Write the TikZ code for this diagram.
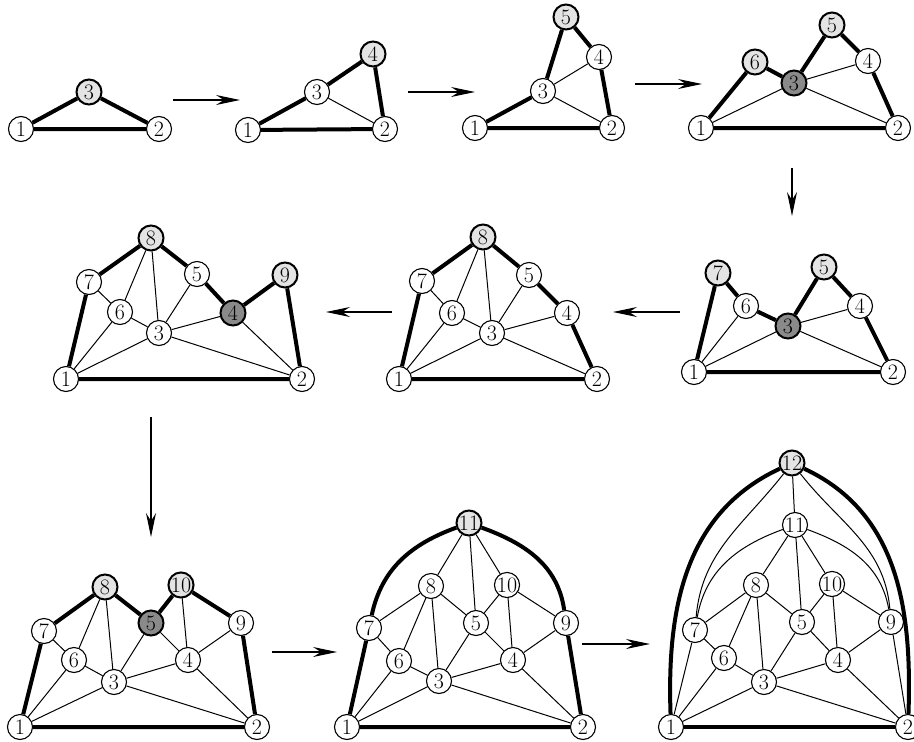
\documentclass[tikz,border=0pt]{standalone}
\usetikzlibrary{arrows.meta}
\definecolor{lightv}{HTML}{E4E4E4}
\definecolor{darkv}{HTML}{8A8A8A}
\begin{document}
\begin{tikzpicture}[x=1pt,y=1pt,
  v/.style={circle,draw,fill=white,line width=1.1pt,minimum size=25pt,inner sep=0pt,font=\fontsize{22}{22}\selectfont},
  vl/.style={v,fill=lightv,line width=2pt},
  vd/.style={v,fill=darkv,line width=2pt},
  tk/.style={line width=4pt},
  tn/.style={line width=1pt},
  arr/.style={line width=1.2pt,-{Stealth[length=24pt,width=10pt,inset=8pt]}}]
\useasboundingbox (0,0) rectangle (914,-742);
% ---------- Panel A
\node[v]  (a1) at (21,-129) {1};
\node[v]  (a2) at (159,-129) {2};
\node[vl] (a3) at (89,-92) {3};
\draw[tk] (a1)--(a2) (a1)--(a3) (a3)--(a2);
% ---------- Panel B
\node[v]  (b1) at (248,-130) {1};
\node[v]  (b2) at (385,-129) {2};
\node[v]  (b3) at (317,-92) {3};
\node[vl] (b4) at (373,-54) {4};
\draw[tk] (b1)--(b2) (b1)--(b3) (b3)--(b4) (b4)--(b2);
\draw[tn] (b3)--(b2);
% ---------- Panel C
\node[v]  (c1) at (475,-128) {1};
\node[v]  (c2) at (612,-128) {2};
\node[v]  (c3) at (543,-91) {3};
\node[v]  (c4) at (599,-57) {4};
\node[vl] (c5) at (566,-17) {5};
\draw[tk] (c1)--(c2) (c1)--(c3) (c3)--(c5) (c5)--(c4) (c4)--(c2);
\draw[tn] (c3)--(c4) (c3)--(c2);
% ---------- Panel D
\node[v]  (d1) at (701,-128) {1};
\node[v]  (d2) at (898,-128) {2};
\node[vd] (d3) at (794,-83) {3};
\node[v]  (d4) at (868,-61) {4};
\node[vl] (d5) at (832,-25) {5};
\node[vl] (d6) at (755,-62) {6};
\draw[tk] (d1)--(d2) (d1)--(d6) (d6)--(d3) (d3)--(d5) (d5)--(d4) (d4)--(d2);
\draw[tn] (d1)--(d3) (d3)--(d4) (d3)--(d2);
% ---------- Panel E
\node[v]  (e1) at (694,-372) {1};
\node[v]  (e2) at (893,-372) {2};
\node[vd] (e3) at (788,-326) {3};
\node[v]  (e4) at (860,-306) {4};
\node[vl] (e5) at (824,-267) {5};
\node[v]  (e6) at (746,-306) {6};
\node[vl] (e7) at (718,-273) {7};
\draw[tk] (e1)--(e2) (e1)--(e7) (e7)--(e6) (e6)--(e3) (e3)--(e5) (e5)--(e4) (e4)--(e2);
\draw[tn] (e1)--(e6) (e1)--(e3) (e3)--(e4) (e3)--(e2);
% ---------- Panel F
\node[v]  (f1) at (399,-379) {1};
\node[v]  (f2) at (597,-379) {2};
\node[v]  (f3) at (492,-333) {3};
\node[v]  (f4) at (567,-313) {4};
\node[v]  (f5) at (529,-275) {5};
\node[v]  (f6) at (452,-313) {6};
\node[v]  (f7) at (422,-281) {7};
\node[vl] (f8) at (483,-237) {8};
\draw[tk] (f1)--(f2) (f1)--(f7) (f7)--(f8) (f8)--(f5) (f5)--(f4) (f4)--(f2);
\draw[tn] (f7)--(f6) (f6)--(f8) (f8)--(f3) (f6)--(f3) (f6)--(f1) (f1)--(f3) (f3)--(f5) (f3)--(f4) (f3)--(f2);
% ---------- Panel G
\node[v]  (g1) at (66,-379) {1};
\node[v]  (g2) at (302,-379) {2};
\node[v]  (g3) at (159,-333) {3};
\node[vd] (g4) at (233,-313) {4};
\node[v]  (g5) at (197,-274) {5};
\node[v]  (g6) at (120,-312) {6};
\node[v]  (g7) at (89,-282) {7};
\node[vl] (g8) at (151,-238) {8};
\node[vl] (g9) at (285,-275) {9};
\draw[tk] (g1)--(g2) (g1)--(g7) (g7)--(g8) (g8)--(g5) (g5)--(g4) (g4)--(g9) (g9)--(g2);
\draw[tn] (g7)--(g6) (g6)--(g8) (g8)--(g3) (g6)--(g3) (g6)--(g1) (g1)--(g3) (g3)--(g5) (g3)--(g4) (g3)--(g2) (g4)--(g2);
% ---------- Panel H
\node[v]  (h1) at (20,-727) {1};
\node[v]  (h2) at (257,-727) {2};
\node[v]  (h3) at (114,-682) {3};
\node[v]  (h4) at (188,-660) {4};
\node[vd] (h5) at (151,-623) {5};
\node[v]  (h6) at (74,-660) {6};
\node[v]  (h7) at (44,-631) {7};
\node[vl] (h8) at (105,-587) {8};
\node[v]  (h9) at (241,-623) {9};
\node[vl] (h10) at (181,-585) {10};
\draw[tk] (h1)--(h2) (h1)--(h7) (h7)--(h8) (h8)--(h5) (h5)--(h10) (h10)--(h9) (h9)--(h2);
\draw[tn] (h7)--(h6) (h6)--(h8) (h8)--(h3) (h6)--(h3) (h6)--(h1) (h1)--(h3) (h3)--(h5) (h5)--(h4) (h10)--(h4) (h9)--(h4) (h3)--(h4) (h3)--(h2) (h4)--(h2);
% ---------- Panel I
\node[v]  (i1) at (347,-727) {1};
\node[v]  (i2) at (583,-727) {2};
\node[v]  (i3) at (439,-681) {3};
\node[v]  (i4) at (513,-660) {4};
\node[v]  (i5) at (476,-623) {5};
\node[v]  (i6) at (399,-661) {6};
\node[v]  (i7) at (369,-628) {7};
\node[v]  (i8) at (431,-586) {8};
\node[v]  (i9) at (566,-623) {9};
\node[v]  (i10) at (507,-585) {10};
\node[vl] (i11) at (469,-523) {11};
\draw[tk] (i1)--(i2) (i1)--(i7) (i9)--(i2);
\draw[tk] (i7) to[out=78,in=200] (i11);
\draw[tk] (i11) to[out=-20,in=98] (i9);
\draw[tn] (i11)--(i8) (i11)--(i5) (i11)--(i10) (i8)--(i7) (i8)--(i6) (i8)--(i3) (i8)--(i5)
  (i10)--(i5) (i10)--(i4) (i10)--(i9) (i5)--(i3) (i5)--(i4) (i7)--(i6) (i6)--(i1) (i6)--(i3)
  (i3)--(i1) (i3)--(i4) (i3)--(i2) (i4)--(i9) (i4)--(i2);
% ---------- Panel J
\node[v]  (j1) at (671,-727) {1};
\node[v]  (j2) at (908,-727) {2};
\node[v]  (j3) at (764,-682) {3};
\node[v]  (j4) at (838,-660) {4};
\node[v]  (j5) at (802,-622) {5};
\node[v]  (j6) at (724,-658) {6};
\node[v]  (j7) at (695,-630) {7};
\node[v]  (j8) at (756,-585) {8};
\node[v]  (j9) at (891,-622) {9};
\node[v]  (j10) at (832,-584) {10};
\node[v]  (j11) at (795,-525) {11};
\node[vl] (j12) at (792,-463) {12};
\draw[tk] (j1)--(j2);
\draw[tk] (j12) to[out=205,in=92] (j1);
\draw[tk] (j12) to[out=-25,in=88] (j2);
\draw[tn] (j12) to[out=232,in=85] (j7);
\draw[tn] (j12) to[out=-52,in=95] (j9);
\draw[tn] (j11) to[out=200,in=80] (j7);
\draw[tn] (j11) to[out=-20,in=100] (j9);
\draw[tn] (j12)--(j11) (j11)--(j8) (j11)--(j5) (j11)--(j10) (j8)--(j7) (j8)--(j6) (j8)--(j3) (j8)--(j5)
  (j10)--(j5) (j10)--(j4) (j10)--(j9) (j5)--(j3) (j5)--(j4) (j7)--(j6) (j6)--(j1) (j6)--(j3)
  (j3)--(j1) (j3)--(j4) (j3)--(j2) (j4)--(j9) (j4)--(j2) (j7)--(j1) (j9)--(j2);
% ---------- Arrows
\coordinate (p1s) at (173,-100); \coordinate (p1e) at (240,-100);
\coordinate (p2s) at (408,-92);  \coordinate (p2e) at (475,-92);
\coordinate (p3s) at (635,-84);  \coordinate (p3e) at (702,-84);
\coordinate (p4s) at (792,-168); \coordinate (p4e) at (792,-216);
\coordinate (p5s) at (680,-312); \coordinate (p5e) at (613,-312);
\coordinate (p6s) at (392,-312); \coordinate (p6e) at (326,-312);
\coordinate (p7s) at (151,-417); \coordinate (p7e) at (151,-537);
\coordinate (p8s) at (272,-652); \coordinate (p8e) at (337,-652);
\coordinate (p9s) at (582,-644); \coordinate (p9e) at (650,-644);
\foreach \k in {1,...,9} {\draw[arr] (p\k s) -- (p\k e);}
\end{tikzpicture}
\end{document}
